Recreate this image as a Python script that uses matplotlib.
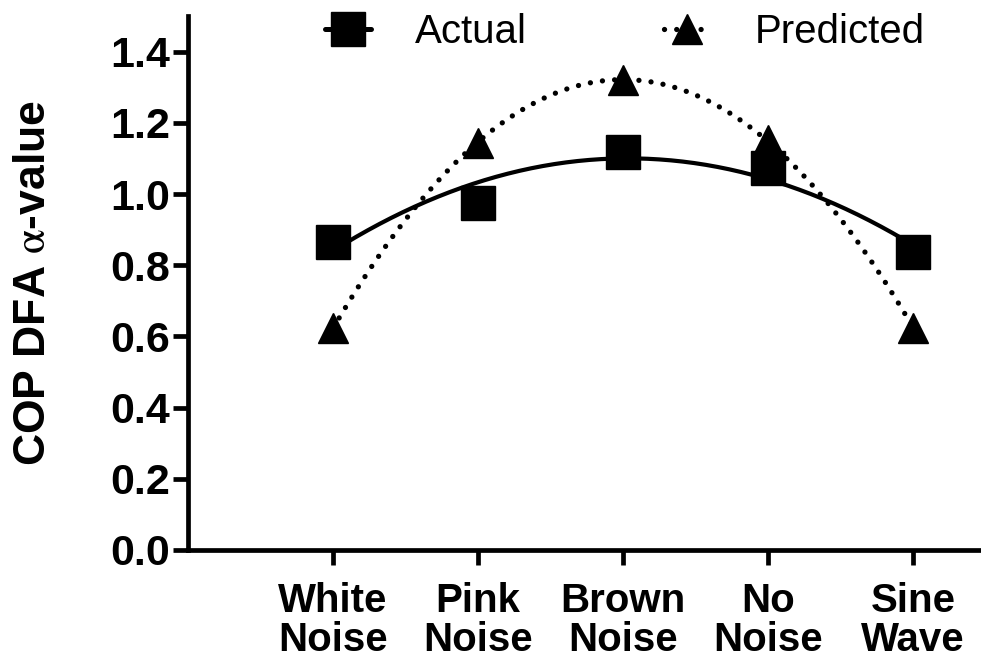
import numpy as np
import matplotlib
matplotlib.use("Agg")
import matplotlib.pyplot as plt

plt.rcParams['font.family'] = ['Liberation Sans', 'DejaVu Sans']
plt.rcParams['mathtext.fontset'] = 'stix'

# data
categories = ["White\nNoise", "Pink\nNoise", "Brown\nNoise", "No\nNoise", "Sine\nWave"]
actual = [0.866, 0.976, 1.119, 1.074, 0.838]
predicted = [0.624, 1.144, 1.320, 1.153, 0.624]
y_ticks = [0.0, 0.2, 0.4, 0.6, 0.8, 1.0, 1.2, 1.4]

x = np.arange(1, len(categories) + 1)

fig = plt.figure(figsize=(9.81, 6.64), dpi=100)
ax = fig.add_axes([0.1916, 0.1717, 0.8084, 0.804])

# quadratic trend through each series
xs = np.linspace(1, 5, 200)
fit_a = np.polyval(np.polyfit(x, actual, 2), xs)
fit_p = np.polyval(np.polyfit(x, predicted, 2), xs)

dots = (0, (0.01, 2.3))
ax.plot(xs, fit_a, color='black', lw=3.0, solid_capstyle='round')
ax.plot(xs, fit_p, color='black', lw=3.8, linestyle=dots, dash_capstyle='round')
ax.plot(x, actual, 's', color='black', ms=25)
ax.plot(x, predicted, '^', color='black', ms=22)

# legend handles
h1, = ax.plot([], [], color='black', lw=3.6, marker='s', ms=25,
              solid_capstyle='round')
h2, = ax.plot([], [], color='black', lw=3.8, linestyle=dots,
              dash_capstyle='round', marker='^', ms=22)
fig.legend([h1, h2], ["Actual", "Predicted"], ncol=2, frameon=False,
           loc='upper center', bbox_to_anchor=(0.637, 1.035), fontsize=29,
           handlelength=1.15, handletextpad=1.1, columnspacing=3.4)

ax.set_xlim(0, 5.47)
ax.set_ylim(0, 1.5)
ax.set_xticks(x)
ax.set_xticklabels(categories, fontsize=29, fontweight='bold', linespacing=1.05)
ax.set_yticks(y_ticks)
ax.set_yticklabels([f"{v:.1f}" for v in y_ticks], fontsize=31, fontweight='bold')
ax.set_ylabel(r"COP DFA $\mathrm{\alpha}$-value", fontsize=32, fontweight='bold',
              labelpad=40)

for s in ['top', 'right']:
    ax.spines[s].set_visible(False)
for s in ['left', 'bottom']:
    ax.spines[s].set_linewidth(3.4)
ax.tick_params(width=3.4, length=11, pad=2)
ax.tick_params(axis='x', pad=12)

fig.savefig("out.png", dpi=100)
